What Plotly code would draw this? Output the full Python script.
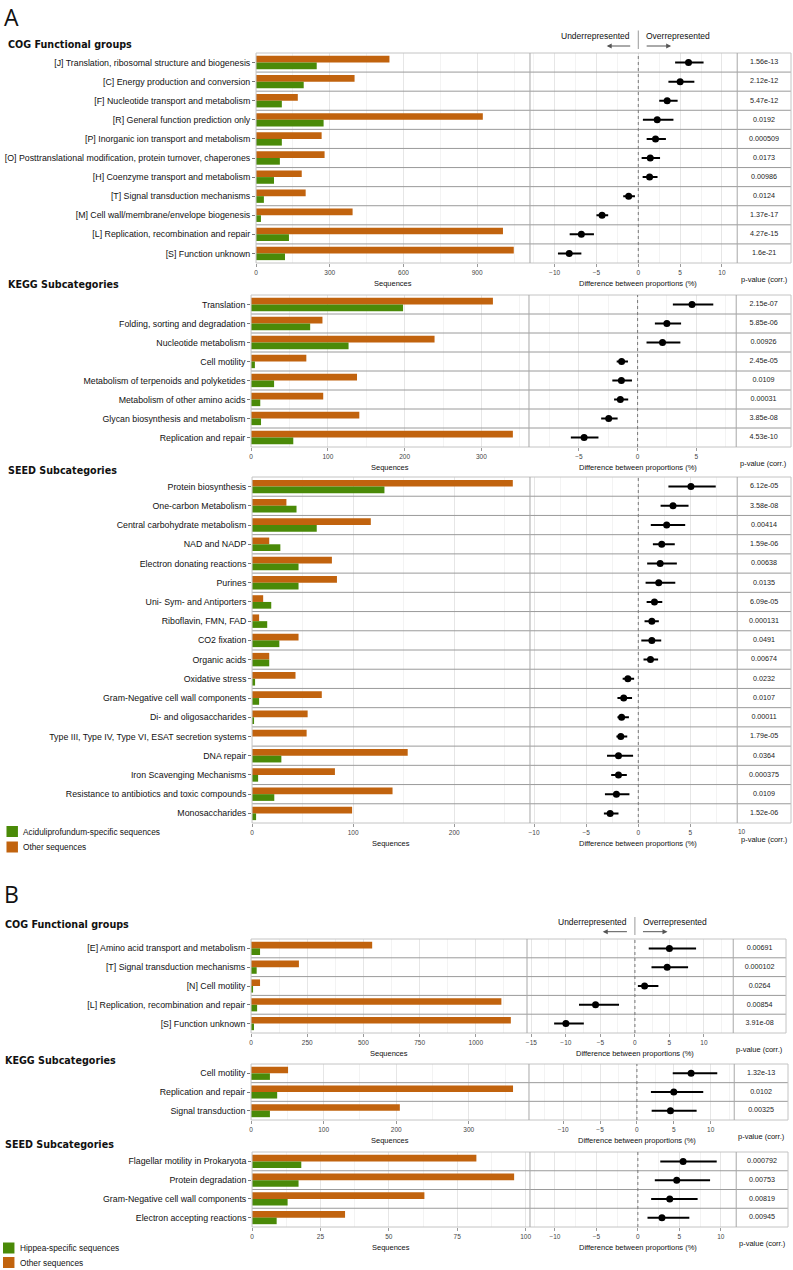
import plotly.graph_objects as go

W, H = 793, 1270
ORANGE = "#C1630E"
GREEN = "#4A8A08"

# ---------------- DATA ----------------
# Panel A - COG
a_cog_cats = ["[J] Translation, ribosomal structure and biogenesis",
              "[C] Energy production and conversion",
              "[F] Nucleotide transport and metabolism",
              "[R] General function prediction only",
              "[P] Inorganic ion transport and metabolism",
              "[O] Posttranslational modification, protein turnover, chaperones",
              "[H] Coenzyme transport and metabolism",
              "[T] Signal transduction mechanisms",
              "[M] Cell wall/membrane/envelope biogenesis",
              "[L] Replication, recombination and repair",
              "[S] Function unknown"]
a_cog_other = [543, 401, 170, 923, 267, 279, 186, 202, 393, 1005, 1049]
a_cog_specific = [247, 194, 105, 275, 105, 97, 73, 32, 20, 134, 118]
a_cog_diff = [6.0, 5.0, 3.45, 2.26, 2.06, 1.43, 1.35, -1.15, -4.33, -6.8, -8.25]
a_cog_lo = [4.4, 3.6, 2.5, 0.55, 1.0, 0.4, 0.52, -1.8, -5.0, -8.2, -9.6]
a_cog_hi = [7.8, 6.7, 4.7, 4.2, 3.3, 2.6, 2.3, -0.4, -3.6, -5.3, -6.8]
a_cog_p = ["1.56e-13", "2.12e-12", "5.47e-12", "0.0192", "0.000509", "0.0173",
           "0.00986", "0.0124", "1.37e-17", "4.27e-15", "1.6e-21"]

# Panel A - KEGG
a_kegg_cats = ["Translation", "Folding, sorting and degradation", "Nucleotide metabolism",
               "Cell motility", "Metabolism of terpenoids and polyketides",
               "Metabolism of other amino acids", "Glycan biosynthesis and metabolism",
               "Replication and repair"]
a_kegg_other = [315, 93, 239, 72, 138, 94, 141, 341]
a_kegg_specific = [198, 77, 127, 5, 30, 12, 13, 55]
a_kegg_diff = [4.63, 2.49, 2.12, -1.36, -1.38, -1.47, -2.46, -4.55]
a_kegg_lo = [3.0, 1.47, 0.76, -1.78, -2.15, -2.0, -3.1, -5.68]
a_kegg_hi = [6.44, 3.7, 3.64, -0.82, -0.48, -0.8, -1.7, -3.33]
a_kegg_p = ["2.15e-07", "5.85e-06", "0.00926", "2.45e-05", "0.0109", "0.00031",
            "3.85e-08", "4.53e-10"]

# Panel A - SEED
a_seed_cats = ["Protein biosynthesis", "One-carbon Metabolism", "Central carbohydrate metabolism",
               "NAD and NADP", "Electron donating reactions", "Purines",
               "Uni- Sym- and Antiporters", "Riboflavin, FMN, FAD", "CO2 fixation",
               "Organic acids", "Oxidative stress", "Gram-Negative cell wall components",
               "Di- and oligosaccharides", "Type III, Type IV, Type VI, ESAT secretion systems",
               "DNA repair", "Iron Scavenging Mechanisms",
               "Resistance to antibiotics and toxic compounds", "Monosaccharides"]
a_seed_other = [258, 34, 117.5, 17, 79, 84, 11, 7, 46, 17, 43, 69, 55, 54, 154, 82, 139, 99]
a_seed_specific = [131, 44, 64, 28, 46, 46, 19, 15, 27, 17, 3, 7, 1, 0, 29, 6, 22, 4]
a_seed_diff = [5.05, 3.33, 2.72, 2.25, 2.1, 1.96, 1.55, 1.3, 1.3, 1.17,
               -1.0, -1.4, -1.6, -1.68, -1.9, -1.9, -2.1, -2.7]
a_seed_lo = [2.89, 2.14, 1.2, 1.4, 0.85, 0.7, 0.8, 0.6, 0.29, 0.5,
             -1.5, -2.0, -2.0, -2.1, -3.0, -2.6, -3.2, -3.3]
a_seed_hi = [7.43, 4.82, 4.5, 3.5, 3.7, 3.55, 2.3, 1.97, 2.2, 1.9,
             -0.4, -0.6, -0.9, -1.06, -0.5, -1.1, -0.85, -1.9]
a_seed_p = ["6.12e-05", "3.58e-08", "0.00414", "1.59e-06", "0.00638", "0.0135", "6.09e-05",
            "0.000131", "0.0491", "0.00674", "0.0232", "0.0107", "0.00011", "1.79e-05",
            "0.0364", "0.000375", "0.0109", "1.52e-06"]

# Panel B - COG
b_cog_cats = ["[E] Amino acid transport and metabolism", "[T] Signal transduction mechanisms",
              "[N] Cell motility", "[L] Replication, recombination and repair",
              "[S] Function unknown"]
b_cog_other = [539, 213, 40, 1114, 1156]
b_cog_specific = [40, 25, 6, 27, 13]
b_cog_diff = [5.0, 4.67, 1.4, -5.7, -10.0]
b_cog_lo = [2.0, 2.4, 0.43, -8.1, -11.7]
b_cog_hi = [8.86, 7.7, 3.4, -2.3, -7.4]
b_cog_p = ["0.00691", "0.000102", "0.0264", "0.00854", "3.91e-08"]

# Panel B - KEGG
b_kegg_cats = ["Cell motility", "Replication and repair", "Signal transduction"]
b_kegg_other = [51, 361, 205]
b_kegg_specific = [26, 36, 26]
b_kegg_diff = [7.35, 5.0, 4.55]
b_kegg_lo = [4.86, 1.9, 2.0]
b_kegg_hi = [10.9, 9.0, 8.1]
b_kegg_p = ["1.32e-13", "0.0102", "0.00325"]

# Panel B - SEED
b_seed_cats = ["Flagellar motility in Prokaryota", "Protein degradation",
               "Gram-Negative cell wall components", "Electron accepting reactions"]
b_seed_other = [82, 95.8, 63, 34]
b_seed_specific = [18, 17, 13, 9]
b_seed_diff = [5.45, 4.68, 3.84, 2.9]
b_seed_lo = [2.7, 2.04, 1.6, 1.16]
b_seed_hi = [9.5, 8.7, 7.2, 6.2]
b_seed_p = ["0.000792", "0.00753", "0.00819", "0.00945"]

section_titles = ["COG Functional groups", "KEGG Subcategories", "SEED Subcategories"]
legend_labels_a = ["Aciduliprofundum-specific sequences", "Other sequences"]
legend_labels_b = ["Hippea-specific sequences", "Other sequences"]

sections = [
    dict(cats=a_cog_cats, other=a_cog_other, spec=a_cog_specific, diff=a_cog_diff,
         lo=a_cog_lo, hi=a_cog_hi, p=a_cog_p),
    dict(cats=a_kegg_cats, other=a_kegg_other, spec=a_kegg_specific, diff=a_kegg_diff,
         lo=a_kegg_lo, hi=a_kegg_hi, p=a_kegg_p),
    dict(cats=a_seed_cats, other=a_seed_other, spec=a_seed_specific, diff=a_seed_diff,
         lo=a_seed_lo, hi=a_seed_hi, p=a_seed_p),
    dict(cats=b_cog_cats, other=b_cog_other, spec=b_cog_specific, diff=b_cog_diff,
         lo=b_cog_lo, hi=b_cog_hi, p=b_cog_p),
    dict(cats=b_kegg_cats, other=b_kegg_other, spec=b_kegg_specific, diff=b_kegg_diff,
         lo=b_kegg_lo, hi=b_kegg_hi, p=b_kegg_p),
    dict(cats=b_seed_cats, other=b_seed_other, spec=b_seed_specific, diff=b_seed_diff,
         lo=b_seed_lo, hi=b_seed_hi, p=b_seed_p),
]

# ---------------- LAYOUT GEOMETRY (pixels) ----------------
geoms = [
    dict(top=53, bottom=263, bx0=255, bx1=530, dx1=738, px1=792, bmax=1115, dr=[-12.94, 11.82], bdt=300, title_y=44, title_x=4),
    dict(top=295, bottom=447, bx0=250, bx1=529, dx1=737, px1=792, bmax=362, dr=[-9.24, 8.39], bdt=100, title_y=284, title_x=4),
    dict(top=477, bottom=823, bx0=251, bx1=530, dx1=738, px1=792, bmax=275, dr=[-10.39, 9.49], bdt=100, title_y=471, title_x=4),
    dict(top=939, bottom=1033, bx0=250, bx1=527, dx1=734, px1=787, bmax=1228, dr=[-15.63, 14.24], bdt=250, title_y=924, title_x=1),
    dict(top=1064, bottom=1120, bx0=250, bx1=529, dx1=735, px1=789, bmax=383, dr=[-14.64, 13.2], bdt=100, title_y=1060, title_x=1),
    dict(top=1152, bottom=1227, bx0=251, bx1=530, dx1=737, px1=789, bmax=101.6, dr=[-13.0, 11.85], bdt=25, title_y=1144, title_x=1),
]


def fx(x):
    return x / W


def fy(y):
    return 1 - y / H


def xn(k):
    return "x" if k == 1 else f"x{k}"


def xkey(k):
    return "xaxis" if k == 1 else f"xaxis{k}"


def yn(k):
    return "y" if k == 1 else f"y{k}"


def ykey(k):
    return "yaxis" if k == 1 else f"yaxis{k}"


fig = go.Figure()
shapes = []
annotations = []
TXT = "Liberation Sans, Arial, sans-serif"

for s, (sec, g) in enumerate(zip(sections, geoms)):
    n = len(sec["cats"])
    yi = s + 1
    xb, xd, xp = 3 * s + 1, 3 * s + 2, 3 * s + 3
    idx = list(range(n))
    ydom = [fy(g["bottom"]), fy(g["top"])]

    fig.add_trace(go.Bar(y=idx, x=sec["other"], orientation="h", marker_color=ORANGE,
                         marker_line_width=0, xaxis=xn(xb), yaxis=yn(yi), showlegend=False))
    fig.add_trace(go.Bar(y=idx, x=sec["spec"], orientation="h", marker_color=GREEN,
                         marker_line_width=0, xaxis=xn(xb), yaxis=yn(yi), showlegend=False))
    fig.add_trace(go.Scatter(
        x=sec["diff"], y=idx, mode="markers",
        marker=dict(color="black", size=7),
        error_x=dict(type="data", symmetric=False,
                     array=[h - d for h, d in zip(sec["hi"], sec["diff"])],
                     arrayminus=[d - l for d, l in zip(sec["diff"], sec["lo"])],
                     thickness=2, width=0, color="black"),
        xaxis=xn(xd), yaxis=yn(yi), showlegend=False))
    fig.add_trace(go.Scatter(x=[0.5] * n, y=idx, mode="text", text=sec["p"],
                             textfont=dict(size=7.2, color="#222", family=TXT),
                             xaxis=xn(xp), yaxis=yn(yi), showlegend=False))

    common_x = dict(anchor=yn(yi), ticks="outside", ticklen=3, tickcolor="#999",
                    tickfont=dict(size=6.5, color="#444", family=TXT),
                    showline=False, zeroline=False, showgrid=True,
                    gridcolor="#e6e6e6", gridwidth=1)
    fig.layout[xkey(xb)] = dict(common_x, domain=[fx(g["bx0"]), fx(g["bx1"])],
                                range=[0, g["bmax"]], tickmode="linear", tick0=0, dtick=g["bdt"],
                                minor=dict(dtick=g["bdt"] / 2, showgrid=True, gridcolor="#f3f3f3"))
    fig.layout[xkey(xd)] = dict(common_x, domain=[fx(g["bx1"]), fx(g["dx1"])],
                                range=g["dr"], tickmode="linear", tick0=0, dtick=5,
                                minor=dict(dtick=2.5, showgrid=True, gridcolor="#f3f3f3"))
    fig.layout[xkey(xp)] = dict(anchor=yn(yi), domain=[fx(g["dx1"]), fx(g["px1"])],
                                range=[0, 1], showgrid=False, showticklabels=False,
                                zeroline=False, ticks="", showline=False)
    fig.layout[ykey(yi)] = dict(anchor=xn(xb), domain=ydom, range=[n - 0.5, -0.5],
                                tickmode="array", tickvals=idx, ticktext=sec["cats"],
                                ticks="outside", ticklen=3, tickcolor="#777",
                                tickfont=dict(size=8.8, color="#111", family=TXT),
                                showgrid=False, zeroline=False, showline=False)

    # row separators
    for i in range(1, n):
        shapes.append(dict(type="line", xref="paper", yref=yn(yi),
                           x0=fx(g["bx0"]), x1=fx(g["px1"]), y0=i - 0.5, y1=i - 0.5,
                           line=dict(color="#9a9a9a", width=1)))
    # frame
    shapes.append(dict(type="rect", xref="paper", yref="paper",
                       x0=fx(g["bx0"]), x1=fx(g["px1"]), y0=ydom[0], y1=ydom[1],
                       line=dict(color="#c4c4c4", width=1)))
    for xv in (g["bx1"], g["dx1"]):
        shapes.append(dict(type="line", xref="paper", yref="paper",
                           x0=fx(xv), x1=fx(xv), y0=ydom[0], y1=ydom[1],
                           line=dict(color="#a8a8a8", width=1)))
    # zero line
    shapes.append(dict(type="line", xref=xn(xd), yref="paper", x0=0, x1=0,
                       y0=ydom[0], y1=ydom[1], line=dict(color="#777", width=1, dash="dot")))

    # titles
    annotations.append(dict(text="<b>" + section_titles[s % 3] + "</b>", xref="paper", yref="paper",
                            x=fx(g["title_x"]), y=fy(g["title_y"]), xanchor="left", yanchor="middle",
                            showarrow=False, font=dict(size=9.6, color="#111", family="DejaVu Sans")))
    annotations.append(dict(text="Sequences", xref="paper", yref="paper",
                            x=fx((g["bx0"] + g["bx1"]) / 2), y=fy(g["bottom"] + 20.5),
                            xanchor="center", yanchor="middle", showarrow=False,
                            font=dict(size=7.5, color="#111", family=TXT)))
    annotations.append(dict(text="Difference between proportions (%)", xref=xn(xd), yref="paper",
                            x=0, y=fy(g["bottom"] + 20.5),
                            xanchor="center", yanchor="middle", showarrow=False,
                            font=dict(size=7.5, color="#111", family=TXT)))
    annotations.append(dict(text="p-value (corr.)", xref="paper", yref="paper",
                            x=fx((g["dx1"] + g["px1"]) / 2), y=fy(g["bottom"] + 16.5),
                            xanchor="center", yanchor="middle", showarrow=False,
                            font=dict(size=7.5, color="#111", family=TXT)))

# stray tick label just past the SEED (A) difference panel, as in the reference
annotations.append(dict(text="10", xref="paper", yref="paper", x=fx(743), y=fy(831),
                        xanchor="center", yanchor="middle", showarrow=False,
                        font=dict(size=6.5, color="#444", family=TXT)))

# panel letters
annotations.append(dict(text="A", xref="paper", yref="paper", x=fx(0), y=fy(-1),
                        xanchor="left", yanchor="top", showarrow=False,
                        font=dict(size=23, color="#111", family="Open Sans")))
annotations.append(dict(text="B", xref="paper", yref="paper", x=fx(0), y=fy(876),
                        xanchor="left", yanchor="top", showarrow=False,
                        font=dict(size=23, color="#111", family="Open Sans")))

# Under / Over-represented headers
for (zx, ty, vy0, vy1, ay_, la, ra) in [(638.7, 36, 30.5, 49, 46, (632, 607), (645.7, 671.7)),
                                        (635.3, 922.3, 917, 935, 931.7, (628.7, 603), (642, 668))]:
    shapes.append(dict(type="line", xref="paper", yref="paper", x0=fx(zx), x1=fx(zx),
                       y0=fy(vy0), y1=fy(vy1), line=dict(color="#999", width=1)))
    annotations.append(dict(text="Underrepresented", xref="paper", yref="paper", x=fx(zx - 6),
                            y=fy(ty), xanchor="right", yanchor="middle", showarrow=False,
                            font=dict(size=8.5, color="#111", family=TXT)))
    annotations.append(dict(text="Overrepresented", xref="paper", yref="paper", x=fx(zx + 6),
                            y=fy(ty), xanchor="left", yanchor="middle", showarrow=False,
                            font=dict(size=8.5, color="#111", family=TXT)))
    annotations.append(dict(text="", xref="paper", yref="paper", x=fx(la[1]), y=fy(ay_),
                            ax=la[0] - la[1], ay=0, axref="pixel", ayref="pixel",
                            showarrow=True, arrowhead=2, arrowsize=1, arrowwidth=1,
                            arrowcolor="#555"))
    annotations.append(dict(text="", xref="paper", yref="paper", x=fx(ra[1]), y=fy(ay_),
                            ax=ra[0] - ra[1], ay=0, axref="pixel", ayref="pixel",
                            showarrow=True, arrowhead=2, arrowsize=1, arrowwidth=1,
                            arrowcolor="#555"))

# legends
for (labels, x0, ys) in [(legend_labels_a, 4.5, (826, 841.5)), (legend_labels_b, 1, (1242.5, 1257))]:
    for lab, col, yt in zip(labels, [GREEN, ORANGE], ys):
        shapes.append(dict(type="rect", xref="paper", yref="paper", x0=fx(x0), x1=fx(x0 + 11.5),
                           y0=fy(yt + 11), y1=fy(yt), fillcolor=col, line=dict(width=0)))
        annotations.append(dict(text=lab, xref="paper", yref="paper", x=fx(x0 + 15), y=fy(yt + 5.5),
                                xanchor="left", yanchor="middle", showarrow=False,
                                font=dict(size=8.3, color="#111", family=TXT)))

fig.update_layout(width=W, height=H, margin=dict(l=0, r=0, t=0, b=0),
                  paper_bgcolor="white", plot_bgcolor="white",
                  barmode="group", bargap=0.3, bargroupgap=0.0,
                  shapes=shapes, annotations=annotations, showlegend=False)

fig.write_html("out.html", config={"displayModeBar": False},
               post_script="document.body.style.margin='0';document.body.style.padding='0';"
                           "document.body.style.overflow='hidden';")
